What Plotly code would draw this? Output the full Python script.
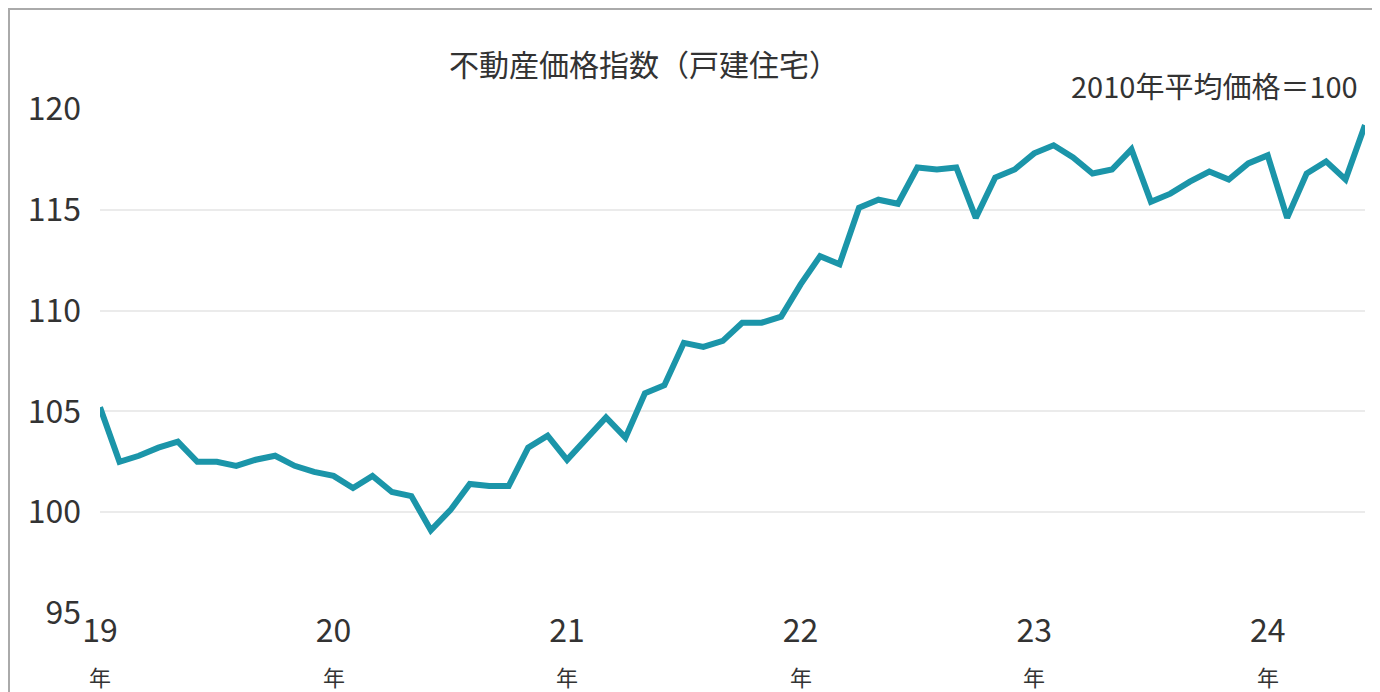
import plotly.graph_objects as go

# monthly index, Jan 2019 - Jun 2024
values = [105.2, 102.5, 102.8, 103.2, 103.5, 102.5, 102.5, 102.3, 102.6, 102.8, 102.3, 102.0,
          101.8, 101.2, 101.8, 101.0, 100.8, 99.1, 100.1, 101.4, 101.3, 101.3, 103.2, 103.8,
          102.6, 103.7, 104.7, 103.7, 105.9, 106.3, 108.4, 108.2, 108.5, 109.4, 109.4, 109.7,
          111.3, 112.7, 112.3, 115.1, 115.5, 115.3, 117.1, 117.0, 117.1, 114.6, 116.6, 117.0,
          117.8, 118.2, 117.6, 116.8, 117.0, 118.0, 115.4, 115.8, 116.4, 116.9, 116.5, 117.3,
          117.7, 114.6, 116.8, 117.4, 116.5, 119.2]
months = list(range(len(values)))
year_ticks = [0, 12, 24, 36, 48, 60]
year_labels = ['19', '20', '21', '22', '23', '24']
y_ticks = [95, 100, 105, 110, 115, 120]

W, H = 1380, 692
L, R, T, B = 92, 23, 101, 87
pw, ph = W - L - R, H - T - B

fig = go.Figure(go.Scatter(x=months, y=values, mode='lines',
                           line=dict(color='#1b95a9', width=6), cliponaxis=False))

annotations = [
    dict(text='不動産価格指数（戸建住宅）', xref='paper', yref='paper',
         x=0.43, y=1 + 46 / ph, showarrow=False, font=dict(size=30), xanchor='center', yanchor='middle'),
    dict(text='2010年平均価格＝100', xref='paper', yref='paper',
         x=1 - 5 / pw, y=1 + 24 / ph, showarrow=False, font=dict(size=29), xanchor='right', yanchor='middle'),
]
for t in year_ticks:
    annotations.append(dict(text='年', x=t, xref='x', yref='paper', y=-63 / ph,
                            showarrow=False, font=dict(size=22), xanchor='center', yanchor='middle'))

fig.update_layout(
    width=W, height=H, margin=dict(l=L, r=R, t=T, b=B),
    paper_bgcolor='white', plot_bgcolor='white', showlegend=False,
    font=dict(family='Noto Sans CJK JP', color='#333333'),
    xaxis=dict(range=[0, 65], tickvals=year_ticks, ticktext=year_labels, automargin=False,
               tickfont=dict(size=32), showgrid=False, zeroline=False, ticks='', ticklabelstandoff=-4),
    yaxis=dict(range=[95, 120], tickvals=y_ticks, tickfont=dict(size=32), automargin=False,
               gridcolor='#ebebeb', gridwidth=2, zeroline=False, ticklabelstandoff=18),
    annotations=annotations,
    shapes=[dict(type='rect', xref='paper', yref='paper',
                 x0=-(L - 1) / pw, x1=1 + (R - 1) / pw, y0=-(B - 1) / ph, y1=1 + (T - 1) / ph,
                 line=dict(color='#aaaaaa', width=2))],
)
fig.write_html('out.html')
